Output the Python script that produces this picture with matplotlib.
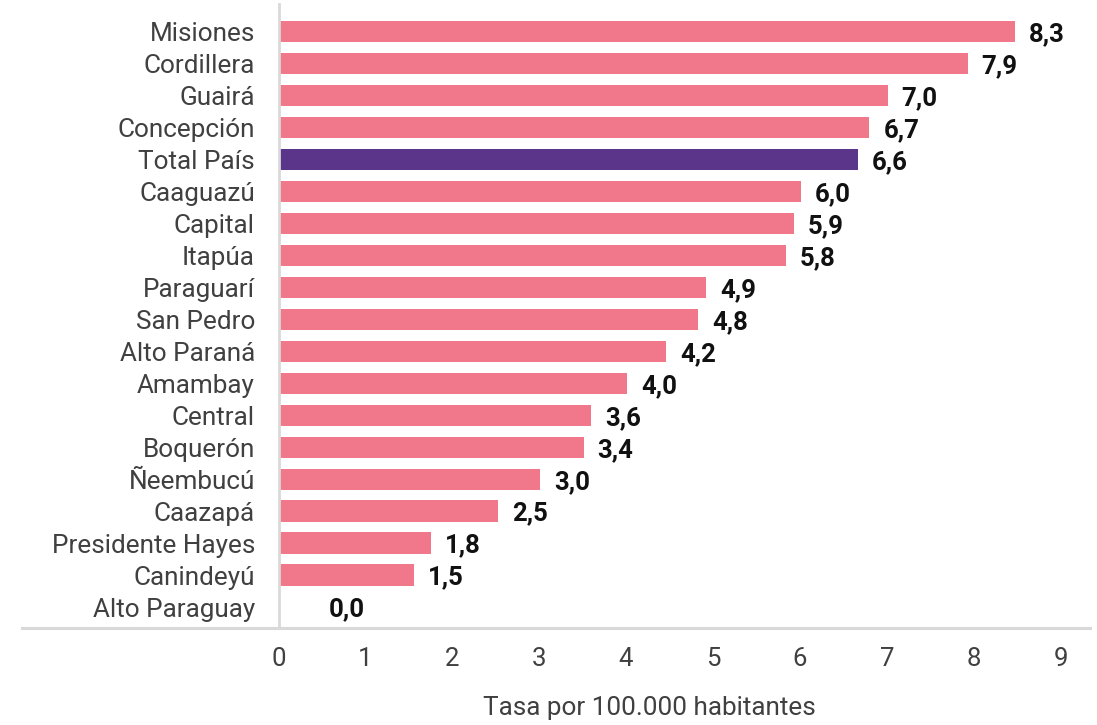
import matplotlib
matplotlib.use("Agg")
import matplotlib.pyplot as plt
from matplotlib.lines import Line2D

plt.rcParams['font.family'] = ['Roboto', 'DejaVu Sans']

categories = ["Misiones", "Cordillera", "Guairá", "Concepción", "Total País",
              "Caaguazú", "Capital", "Itapúa", "Paraguarí", "San Pedro",
              "Alto Paraná", "Amambay", "Central", "Boquerón", "Ñeembucú",
              "Caazapá", "Presidente Hayes", "Canindeyú", "Alto Paraguay"]
values = [8.48, 7.93, 7.01, 6.80, 6.67, 6.01, 5.93, 5.84, 4.92, 4.83,
          4.46, 4.01, 3.60, 3.51, 3.01, 2.53, 1.76, 1.56, 0.0]
value_labels = ["8,3", "7,9", "7,0", "6,7", "6,6", "6,0", "5,9", "5,8", "4,9", "4,8",
                "4,2", "4,0", "3,6", "3,4", "3,0", "2,5", "1,8", "1,5", "0,0"]
highlight = "Total País"
xticks = [0, 1, 2, 3, 4, 5, 6, 7, 8, 9]
xlabel = "Tasa por 100.000 habitantes"

PINK = "#F0788A"
PURPLE = "#5B358A"
GRID = "#D9D9D9"
TXT = "#404040"

fig = plt.figure(figsize=(10.97, 7.25), dpi=100)
ax = fig.add_axes([278.5 / 1097, 1 - 628 / 725, (1090 - 278.5) / 1097, (628 - 4) / 725])

ypos = list(range(len(categories)))
colors = [PURPLE if c == highlight else PINK for c in categories]
ax.barh(ypos, values, height=0.67, color=colors, zorder=2)

for y, v, lab in zip(ypos, values, value_labels):
    off = 10 if v > 0 else 36
    ax.annotate(lab, xy=(v, y), xytext=(off, 0), textcoords="offset points",
                ha="left", va="center_baseline", fontsize=18.5, fontweight="bold",
                color="#111111")

ax.set_ylim(18.65, -0.853)
ax.set_xlim(0, (1090 - 278.5) / 86.9)
ax.set_yticks(ypos)
ax.set_yticklabels(categories, fontsize=18.8, color=TXT)
ax.set_xticks(xticks)
ax.set_xticklabels([str(t) for t in xticks], fontsize=18.5, color=TXT)
ax.tick_params(axis="y", length=0, pad=17)
ax.tick_params(axis="x", length=0, pad=14)

for s in ["top", "right", "bottom"]:
    ax.spines[s].set_visible(False)
ax.spines["left"].set_color(GRID)
ax.spines["left"].set_linewidth(2)

# bottom baseline extending into label area
fig.add_artist(Line2D([22 / 1097, 1090 / 1097], [1 - 628 / 725, 1 - 628 / 725],
                      transform=fig.transFigure, color=GRID, linewidth=2.2))

fig.text(649 / 1097, 1 - 708 / 725, xlabel, ha="center", va="center",
         fontsize=18.8, color=TXT)

fig.savefig("out.png", dpi=100)
